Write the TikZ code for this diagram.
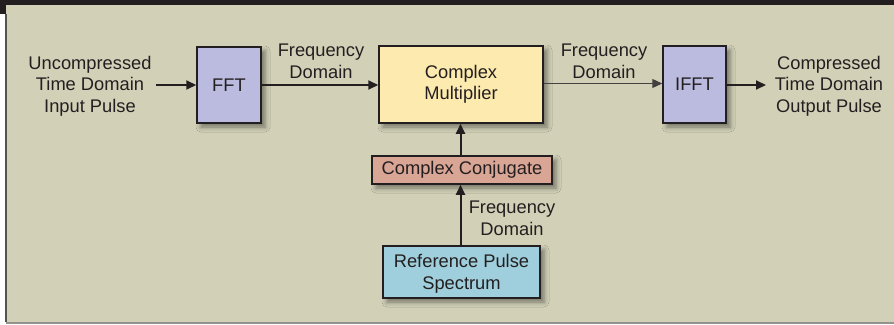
\documentclass[tikz,border=0pt]{standalone}
\usepackage{fontspec}
\setmainfont{Liberation Sans}
\usetikzlibrary{arrows.meta,shadows.blur}

\definecolor{panel}{RGB}{210,209,184}
\definecolor{ink}{RGB}{35,31,32}
\definecolor{fftfill}{RGB}{186,187,223}
\definecolor{multfill}{RGB}{253,234,174}
\definecolor{conjfill}{RGB}{217,165,149}
\definecolor{reffill}{RGB}{159,207,220}
\definecolor{rulegrey}{RGB}{120,120,112}

\tikzset{
  txt/.style={font=\fontsize{18.3}{21.5}\selectfont},
  blk/.style={txt, draw=ink, line width=1.5pt, inner sep=0pt, text=ink, align=center,
    blur shadow={shadow xshift=4pt, shadow yshift=-4pt, shadow blur radius=5pt, shadow opacity=45}},
  lbl/.style={txt, text=ink, align=center, inner sep=0pt},
  sig/.style={draw=ink, line width=2pt, -{Triangle[length=10pt,width=9pt]}},
  thinsig/.style={draw=ink!85, line width=1.1pt, -{Triangle[length=10pt,width=9pt]}},
}

\begin{document}
\begin{tikzpicture}[x=1pt,y=-1pt]
  % page and panel frame
  \useasboundingbox (0,0) rectangle (894,324);
  \fill[white] (0,0) rectangle (894,324);
  \fill[panel] (6,4) rectangle (894,322);
  \fill[ink] (0,0) rectangle (894,4.5);
  \fill[ink] (0,0) rectangle (5.5,14);
  \fill[rulegrey!70!black] (5,14) rectangle (7,322);
  \fill[rulegrey!80] (6,321.5) rectangle (894,324);

  % blocks
  \node[blk, fill=fftfill, minimum width=64pt, minimum height=76pt] (fft) at (229,85) {FFT};
  \node[blk, fill=multfill, minimum width=164pt, minimum height=77pt] (mult) at (461,84.5) {Complex\\Multiplier};
  \node[blk, fill=fftfill, minimum width=63pt, minimum height=77pt] (ifft) at (694.5,84.5) {IFFT};
  \node[blk, fill=conjfill, minimum width=180pt, minimum height=28pt] (conj) at (462,170) {Complex Conjugate};
  \node[blk, fill=reffill, minimum width=157pt, minimum height=52pt, text depth=-1.5pt] (ref) at (461.5,272) {Reference Pulse\\Spectrum};

  % input and output texts
  \node[lbl] (inp) at (90,86) {Uncompressed\\Time Domain\\Input Pulse};
  \node[lbl] (outp) at (829,86) {Compressed\\Time Domain\\Output Pulse};

  % frequency-domain labels
  \node[lbl] (f1) at (321,61.5) {Frequency\\Domain};
  \node[lbl] (f2) at (604,61.5) {Frequency\\Domain};
  \node[lbl] (f3) at (512,218.5) {Frequency\\Domain};

  % signal flow
  \coordinate (inend) at (156,85);
  \coordinate (outend) at (766,85);
  \draw[sig] (inend) -- (fft.west);
  \draw[sig] (fft.east) -- (mult.west |- fft.east);
  \draw[thinsig] (mult.east |- 0,83.5) -- (ifft.west |- 0,83.5);
  \draw[sig] (ifft.east |- 0,85) -- (outend);
  \draw[sig] (ref.north -| 460.5,0) -- (conj.south -| 460.5,0);
  \draw[sig] (conj.north -| 460.5,0) -- (mult.south -| 460.5,0);
\end{tikzpicture}
\end{document}
